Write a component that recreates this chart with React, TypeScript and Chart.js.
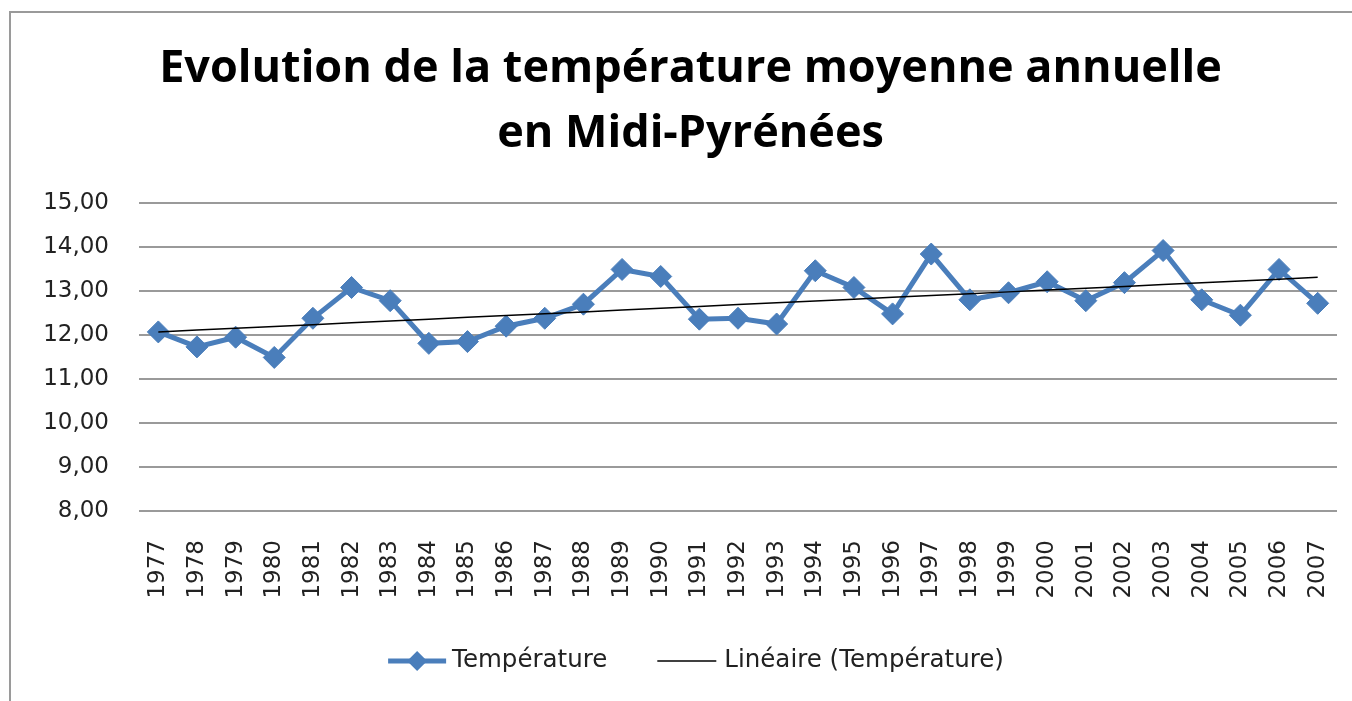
import React, { useEffect, useRef } from "react";
import { Chart, registerables } from "chart.js";

Chart.register(...registerables);

const YEARS = [
  "1977", "1978", "1979", "1980", "1981", "1982", "1983", "1984", "1985", "1986",
  "1987", "1988", "1989", "1990", "1991", "1992", "1993", "1994", "1995", "1996",
  "1997", "1998", "1999", "2000", "2001", "2002", "2003", "2004", "2005", "2006", "2007",
];

const TEMPERATURE = [
  12.07, 11.73, 11.95, 11.49, 12.38, 13.08, 12.78, 11.81, 11.85, 12.2,
  12.38, 12.7, 13.49, 13.33, 12.36, 12.38, 12.25, 13.46, 13.08, 12.48,
  13.84, 12.8, 12.96, 13.21, 12.78, 13.19, 13.92, 12.8, 12.45, 13.49, 12.72,
];

const TITLE_LINES = ["Evolution de la température moyenne annuelle", "en Midi-Pyrénées"];
const SERIES_LABEL = "Température";
const TREND_LABEL = "Linéaire (Température)";

const Y_MIN = 8;
const Y_MAX = 15;
const Y_STEP = 1;

const BLUE = "#4A7EBB";
const TEXT = "#222222";
const GRID = "#9a9a9a";
const TICK_FONT = "'DejaVu Sans', Verdana, sans-serif";

// Least-squares linear trend (Excel "Linéaire" trendline) from the series
function linearTrend(values: number[]): number[] {
  const n = values.length;
  let sx = 0, sy = 0, sxx = 0, sxy = 0;
  values.forEach((v, i) => {
    sx += i; sy += v; sxx += i * i; sxy += i * v;
  });
  const slope = (n * sxy - sx * sy) / (n * sxx - sx * sx);
  const intercept = (sy - slope * sx) / n;
  return values.map((_, i) => intercept + slope * i);
}

const legendPlugin = {
  id: "excelLegend",
  afterDraw(chart: any) {
    const ctx = chart.ctx as CanvasRenderingContext2D;
    ctx.save();
    ctx.font = `24.5px ${TICK_FONT}`;
    const w1 = ctx.measureText(SERIES_LABEL).width;
    const w2 = ctx.measureText(TREND_LABEL).width;
    const g1 = 58, gap1 = 6, gapItems = 50, g2 = 59, gap2 = 8;
    const total = g1 + gap1 + w1 + gapItems + g2 + gap2 + w2;
    let x = chart.width / 2 + 20 - total / 2;
    const y = 661;
    // series glyph: line + diamond
    ctx.strokeStyle = BLUE;
    ctx.lineWidth = 5;
    ctx.beginPath();
    ctx.moveTo(x, y);
    ctx.lineTo(x + g1, y);
    ctx.stroke();
    const cx = x + g1 / 2, r = 10;
    ctx.fillStyle = BLUE;
    ctx.beginPath();
    ctx.moveTo(cx, y - r);
    ctx.lineTo(cx + r, y);
    ctx.lineTo(cx, y + r);
    ctx.lineTo(cx - r, y);
    ctx.closePath();
    ctx.fill();
    x += g1 + gap1;
    ctx.fillStyle = TEXT;
    ctx.textBaseline = "middle";
    ctx.textAlign = "left";
    ctx.fillText(SERIES_LABEL, x, y);
    x += w1 + gapItems;
    // trend glyph
    ctx.strokeStyle = "#000000";
    ctx.lineWidth = 1.5;
    ctx.beginPath();
    ctx.moveTo(x, y);
    ctx.lineTo(x + g2, y);
    ctx.stroke();
    x += g2 + gap2;
    ctx.fillText(TREND_LABEL, x, y);
    ctx.restore();
  },
};

export default function App() {
  const canvasRef = useRef<HTMLCanvasElement | null>(null);

  useEffect(() => {
    const canvas = canvasRef.current;
    if (!canvas) return;
    const trend = linearTrend(TEMPERATURE);
    const chart = new Chart(canvas, {
      type: "line",
      data: {
        labels: YEARS,
        datasets: [
          {
            label: SERIES_LABEL,
            data: TEMPERATURE,
            borderColor: BLUE,
            backgroundColor: BLUE,
            borderWidth: 5,
            pointStyle: "rectRot",
            pointRadius: 11,
            pointBorderWidth: 1,
            pointBackgroundColor: BLUE,
            pointBorderColor: BLUE,
            tension: 0,
            order: 1,
          },
          {
            label: TREND_LABEL,
            data: trend,
            borderColor: "#000000",
            backgroundColor: "#000000",
            borderWidth: 1.5,
            pointRadius: 0,
            tension: 0,
            order: 0,
          },
        ],
      },
      options: {
        responsive: false,
        maintainAspectRatio: false,
        animation: false,
        layout: { padding: { left: 44, right: 15, top: 0, bottom: 0 } },
        plugins: {
          legend: { display: false },
          tooltip: { enabled: false },
          title: {
            display: true,
            text: TITLE_LINES,
            color: "#000000",
            font: { family: "'Open Sans', sans-serif", size: 45, weight: "bold", lineHeight: 65 / 45 },
            padding: { top: 37, bottom: 36 },
          },
        },
        scales: {
          x: {
            offset: true,
            grid: {
              display: true,
              drawOnChartArea: false,
              drawTicks: true,
              tickLength: 29,
              color: "rgba(0,0,0,0)",
            },
            border: { display: false },
            ticks: {
              autoSkip: false,
              minRotation: 90,
              maxRotation: 90,
              padding: 0,
              color: TEXT,
              font: { family: TICK_FONT, size: 23 },
            },
            afterFit: (scale: any) => {
              scale.height = 190;
            },
          },
          y: {
            min: Y_MIN,
            max: Y_MAX,
            grid: { color: GRID, lineWidth: 2, drawTicks: false },
            border: { display: false },
            ticks: {
              stepSize: Y_STEP,
              padding: 30,
              color: TEXT,
              font: { family: TICK_FONT, size: 23 },
              callback: (v: any) => Number(v).toFixed(2).replace(".", ","),
            },
            afterFit: (scale: any) => {
              scale.width = 95;
            },
          },
        },
      },
      plugins: [legendPlugin],
    });
    return () => chart.destroy();
  }, []);

  return (
    <div style={{ position: "absolute", left: 0, top: 0, width: 1352, height: 701, background: "#ffffff" }}>
      <div
        style={{
          position: "absolute",
          left: 9,
          top: 11,
          width: 1343,
          height: 690,
          borderTop: "2px solid #9a9a9a",
          borderLeft: "2px solid #9a9a9a",
          boxSizing: "border-box",
        }}
      />
      <canvas
        ref={canvasRef}
        width={1352}
        height={701}
        style={{ position: "absolute", left: 0, top: 0, width: 1352, height: 701, display: "block" }}
      />
    </div>
  );
}
